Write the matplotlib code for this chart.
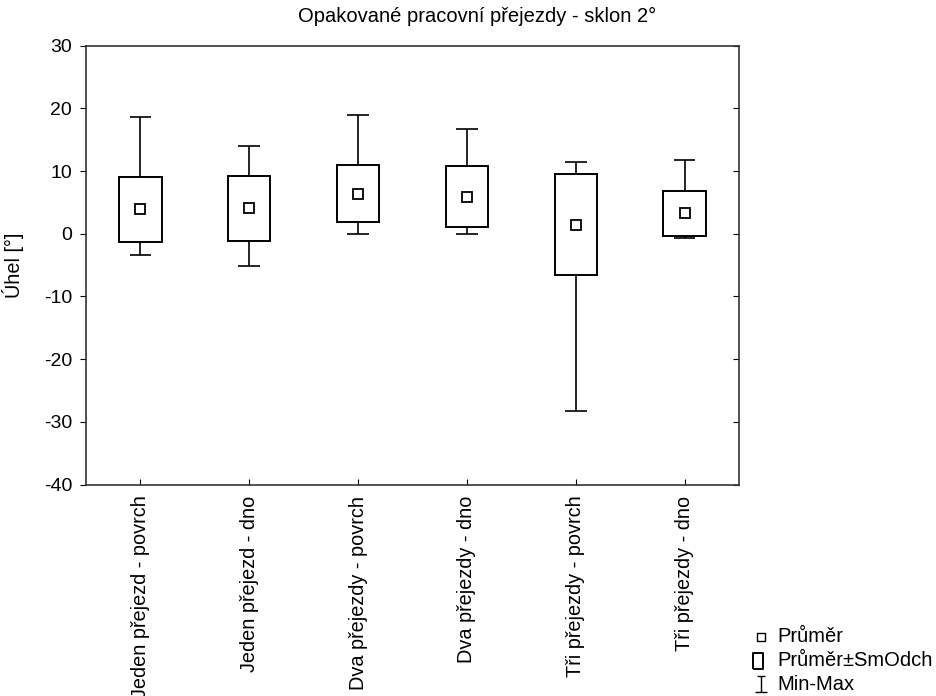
#!/usr/bin/env python3
"""Box plot: mean, mean +/- SD and min-max of angle for repeated passes (slope 2 deg)."""

import matplotlib
matplotlib.use("Agg")
import matplotlib.pyplot as plt
from matplotlib.lines import Line2D
from matplotlib.path import Path
import numpy as np

plt.rcParams["font.family"] = ["Liberation Sans", "DejaVu Sans"]
plt.rcParams["axes.unicode_minus"] = False

categories = [
    "Jeden přejezd - povrch",
    "Jeden přejezd - dno",
    "Dva přejezdy - povrch",
    "Dva přejezdy - dno",
    "Tři přejezdy - povrch",
    "Tři přejezdy - dno",
]
means = [3.9, 4.1, 6.4, 5.9, 1.4, 3.3]
sd_low = [-1.35, -1.15, 1.8, 1.0, -6.6, -0.3]
sd_high = [9.05, 9.25, 10.9, 10.8, 9.5, 6.9]
min_vals = [-3.4, -5.1, 0.0, 0.0, -28.2, -0.7]
max_vals = [18.7, 14.0, 18.95, 16.7, 11.5, 11.8]

title = "Opakované pracovní přejezdy - sklon 2°"
ylabel = "Úhel [°]"
legend_labels = ["Průměr", "Průměr±SmOdch", "Min-Max"]

W, H = 936, 696
fig = plt.figure(figsize=(W / 100, H / 100), dpi=100)
ax = fig.add_axes([86 / W, 1 - 484.5 / H, (739 - 86) / W, (484.5 - 45.7) / H])

x = np.arange(1, len(categories) + 1, dtype=float)
lo = np.array(sd_low)
hi = np.array(sd_high)
box_w = 0.39
cap_w = 0.2
lw = 1.4

ax.bar(x, hi - lo, bottom=lo, width=box_w, fill=False, edgecolor="black",
       linewidth=lw, zorder=2)
ax.vlines(x, hi, max_vals, color="black", linewidth=1.2, zorder=1)
ax.vlines(x, min_vals, lo, color="black", linewidth=1.2, zorder=1)
ax.hlines(max_vals, x - cap_w / 2, x + cap_w / 2, color="black", linewidth=1.2)
ax.hlines(min_vals, x - cap_w / 2, x + cap_w / 2, color="black", linewidth=1.2)
ax.plot(x, means, linestyle="none", marker="s", markersize=7.5,
        markerfacecolor="white", markeredgecolor="black", markeredgewidth=1.3, zorder=3)

ax.set_xlim(0.5, len(categories) + 0.5)
ax.set_ylim(-40, 30)
ax.set_yticks(np.arange(-40, 31, 10))
ax.set_xticks(x)
ax.set_xticklabels(categories, rotation=90, fontsize=14.3)
ax.tick_params(axis="y", direction="out", length=4, pad=6, labelsize=14)
ax.tick_params(axis="x", direction="in", length=4, pad=8)

# inward ticks on the right side, no labels
rax = ax.secondary_yaxis("right")
rax.set_yticks(np.arange(-40, 31, 10))
rax.tick_params(direction="in", length=4, labelright=False)
rax.spines["right"].set_visible(False)

for sp in ax.spines.values():
    sp.set_color("#333333")
    sp.set_linewidth(1.2)
ax.set_ylabel(ylabel, fontsize=14.3)
ax.yaxis.set_label_coords((24 - 86) / 653, 0.5)

fig.text(477 / W, 1 - 16 / H, title, ha="center", va="center", fontsize=14.5)

# legend drawn by hand at lower right
whisk = Path([(0, -1), (0, 1), (-0.45, 1), (0.45, 1), (-0.75, -1), (0.75, -1)],
             [Path.MOVETO, Path.LINETO, Path.MOVETO, Path.LINETO, Path.MOVETO, Path.LINETO])
rect = Path([(-0.7, -1), (0.7, -1), (0.7, 1), (-0.7, 1), (-0.7, -1)])
leg_rows = [
    dict(marker="s", ms=5.5, mew=1.0, dx=761, dy=0),
    dict(marker=rect, ms=11, mew=1.4, dx=758, dy=0),
    dict(marker=whisk, ms=12, mew=1.0, dx=761, dy=-1.5),
]
for i, (lab, st) in enumerate(zip(legend_labels, leg_rows)):
    yy = 1 - (637 + 24 * i) / H
    fig.add_artist(Line2D([st["dx"] / W], [yy - st["dy"] / H], transform=fig.transFigure,
                          linestyle="none", marker=st["marker"], markersize=st["ms"],
                          markerfacecolor="white", markeredgecolor="black",
                          markeredgewidth=st["mew"]))
    fig.text(777 / W, yy, lab, ha="left", va="center", fontsize=14.5)

fig.savefig("out.png", dpi=100)
plt.close(fig)
